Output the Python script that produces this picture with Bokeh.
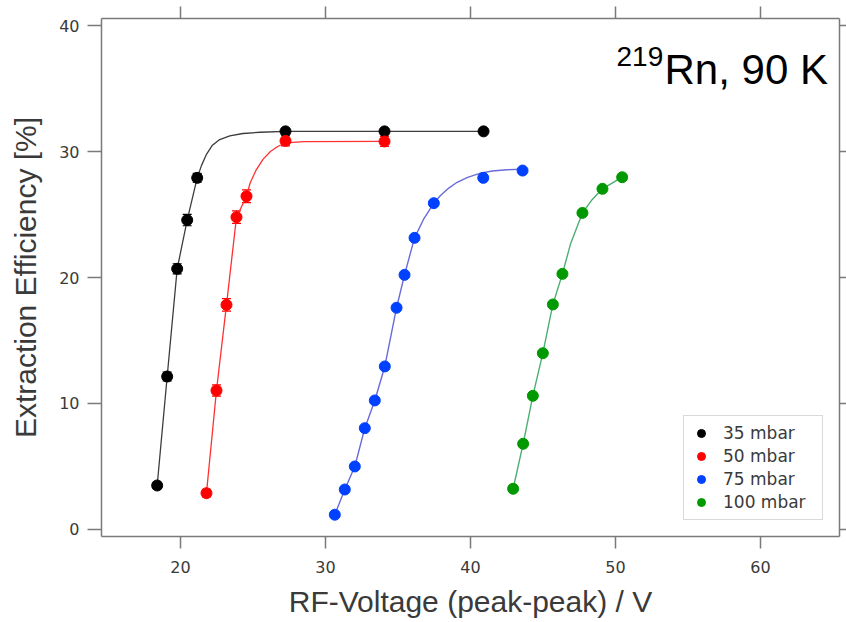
from bokeh.plotting import figure
from bokeh.models import (Range1d, LinearAxis, FixedTicker, Whisker, ColumnDataSource,
                          Legend, LegendItem, Label, TeeHead)
from bokeh.embed import file_html
from bokeh.resources import INLINE

# ---- data ----
v35 = [18.39, 19.08, 19.77, 20.46, 21.15, 27.24, 34.07, 40.90]
e35 = [3.49, 12.14, 20.69, 24.56, 27.91, 31.60, 31.60, 31.60]
err35 = [0.25, 0.35, 0.40, 0.45, 0.35, 0.20, 0.20, 0.20]

v50 = [21.79, 22.48, 23.17, 23.86, 24.55, 27.24, 34.07]
e50 = [2.88, 11.03, 17.83, 24.79, 26.45, 30.85, 30.80]
err50 = [0.30, 0.45, 0.50, 0.50, 0.50, 0.40, 0.40]

v75 = [30.64, 31.33, 32.02, 32.71, 33.40, 34.09, 34.90, 35.45, 36.14, 37.47, 40.88, 43.59]
e75 = [1.17, 3.17, 5.00, 8.04, 10.24, 12.94, 17.60, 20.21, 23.15, 25.90, 27.91, 28.49]

v100 = [42.94, 43.63, 44.30, 44.99, 45.68, 46.34, 47.72, 49.10, 50.46]
e100 = [3.23, 6.80, 10.61, 13.99, 17.86, 20.29, 25.13, 27.04, 27.96]

# fit curves
fit35_v = [18.39, 19.08, 19.77, 20.46, 21.15, 21.45, 21.80, 22.20, 22.70, 23.40, 24.30, 25.50, 27.24, 34.07, 40.90]
fit35_e = [3.49, 12.14, 20.69, 24.56, 27.91, 28.90, 29.80, 30.50, 30.95, 31.25, 31.43, 31.53, 31.60, 31.60, 31.60]

fit50_v = [21.79, 22.48, 23.17, 23.86, 24.55, 24.80, 25.20, 25.70, 26.20, 26.70, 27.24, 28.50, 34.07]
fit50_e = [2.88, 11.03, 17.83, 24.79, 26.45, 27.50, 28.50, 29.40, 30.00, 30.40, 30.68, 30.78, 30.80]

fit75_v = [30.64, 31.33, 32.02, 32.71, 33.40, 34.09, 34.90, 35.45, 36.14, 36.78, 37.47, 37.93,
           38.50, 39.08, 39.80, 40.69, 41.50, 42.50, 43.59]
fit75_e = [1.17, 3.17, 5.00, 8.04, 10.24, 12.94, 17.60, 20.21, 23.15, 24.66, 25.90, 26.51,
           27.10, 27.56, 27.95, 28.28, 28.45, 28.55, 28.60]

fit100_v = [42.94, 43.63, 44.30, 44.99, 45.68, 46.34, 46.90, 47.72, 48.40, 49.10, 50.46]
fit100_e = [3.23, 6.80, 10.61, 13.99, 17.86, 20.29, 22.67, 25.13, 26.20, 27.04, 27.96]

labels = ["35 mbar", "50 mbar", "75 mbar", "100 mbar"]
x_ticks = [20, 30, 40, 50, 60]
y_ticks = [0, 10, 20, 30, 40]

# ---- figure ----
p = figure(width=846, height=622, output_backend="svg", toolbar_location=None,
           x_range=Range1d(14.55, 65.45), y_range=Range1d(-0.56, 40.56),
           x_axis_location=None, y_axis_location=None,
           min_border_left=101, min_border_right=7, min_border_top=18, min_border_bottom=86)
p.xgrid.visible = False
p.ygrid.visible = False
p.outline_line_color = None
p.background_fill_color = "white"
p.border_fill_color = "white"

AX = "#7a7a7a"
TXT = "#3a3a3a"

def style_axis(ax, tick_out, labels_on):
    ax.axis_line_color = AX
    ax.axis_line_width = 1.5
    ax.major_tick_line_color = AX
    ax.major_tick_line_width = 1.5
    ax.major_tick_out = tick_out
    ax.major_tick_in = 0
    ax.minor_tick_line_color = None
    if labels_on:
        ax.major_label_text_font = "DejaVu Sans"
        ax.major_label_text_font_size = "16px"
        ax.major_label_text_color = TXT
    else:
        ax.major_label_text_font_size = "1px"
        ax.major_label_text_color = None
        ax.major_label_standoff = 0

xb = LinearAxis(ticker=FixedTicker(ticks=x_ticks), axis_label="RF-Voltage (peak-peak) / V")
style_axis(xb, 12, True)
xb.major_label_standoff = 12
xb.axis_label_standoff = 9
xb.axis_label_text_font = "Liberation Sans"
xb.axis_label_text_font_size = "30px"
xb.axis_label_text_font_style = "normal"
xb.axis_label_text_color = TXT
p.add_layout(xb, "below")

yl = LinearAxis(ticker=FixedTicker(ticks=y_ticks), axis_label="Extraction Efficiency [%]")
style_axis(yl, 14, True)
yl.major_label_standoff = 8
yl.axis_label_standoff = 14
yl.axis_label_text_font = "Liberation Sans"
yl.axis_label_text_font_size = "30px"
yl.axis_label_text_font_style = "normal"
yl.axis_label_text_color = TXT
p.add_layout(yl, "left")

xt = LinearAxis(ticker=FixedTicker(ticks=x_ticks))
style_axis(xt, 12, False)
p.add_layout(xt, "above")

yr = LinearAxis(ticker=FixedTicker(ticks=y_ticks))
style_axis(yr, 7, False)
p.add_layout(yr, "right")

# ---- fit curves ----
p.line(fit35_v, fit35_e, line_color="#3c3c3c", line_width=1.3)
p.line(fit50_v, fit50_e, line_color="#ff3030", line_width=1.3)
p.line(fit75_v, fit75_e, line_color="#6a6ad8", line_width=1.4)
p.line(fit100_v, fit100_e, line_color="#4caf72", line_width=1.4)

# ---- error bars ----
s35 = ColumnDataSource(dict(x=v35, y=e35, lo=[a - b for a, b in zip(e35, err35)],
                            hi=[a + b for a, b in zip(e35, err35)]))
s50 = ColumnDataSource(dict(x=v50, y=e50, lo=[a - b for a, b in zip(e50, err50)],
                            hi=[a + b for a, b in zip(e50, err50)]))
for src, col in ((s35, "#000000"), (s50, "#ff0000")):
    w = Whisker(source=src, base="x", lower="lo", upper="hi", dimension="height",
                line_color=col, line_width=1.2,
                upper_head=TeeHead(size=9, line_color=col, line_width=1.2),
                lower_head=TeeHead(size=9, line_color=col, line_width=1.2))
    p.add_layout(w)

# ---- points ----
r35 = p.scatter("x", "y", source=s35, size=11, fill_color="#000000", line_color="#000000")
r50 = p.scatter("x", "y", source=s50, size=11, fill_color="#ff0000", line_color="#ff0000")
r75 = p.scatter(v75, e75, size=11, fill_color="#0040ff", line_color="#0040ff")
r100 = p.scatter(v100, e100, size=11, fill_color="#009a00", line_color="#009a00")

legend = Legend(items=[LegendItem(label=labels[0], renderers=[r35]),
                       LegendItem(label=labels[1], renderers=[r50]),
                       LegendItem(label=labels[2], renderers=[r75]),
                       LegendItem(label=labels[3], renderers=[r100])],
                location=(582, 16), padding=7, spacing=3, margin=0,
                glyph_height=20, glyph_width=20, label_height=20, label_width=92,
                label_standoff=12,
                label_text_font="DejaVu Sans", label_text_font_size="17px",
                label_text_color=TXT, border_line_color="#b4b4b4", border_line_width=1,
                background_fill_color="white", background_fill_alpha=1.0)
p.add_layout(legend, "center")

# ---- annotation ----
p.add_layout(Label(x=50.07, y=37.56, text="219", text_font="Liberation Sans",
                   text_font_size="28px", text_color="black", text_align="left",
                   text_baseline="alphabetic"))
p.add_layout(Label(x=53.38, y=36.48, text="Rn, 90 K", text_font="Liberation Sans",
                   text_font_size="42px", text_color="black", text_align="left",
                   text_baseline="alphabetic"))

open("out.html", "w").write(file_html(p, INLINE))
